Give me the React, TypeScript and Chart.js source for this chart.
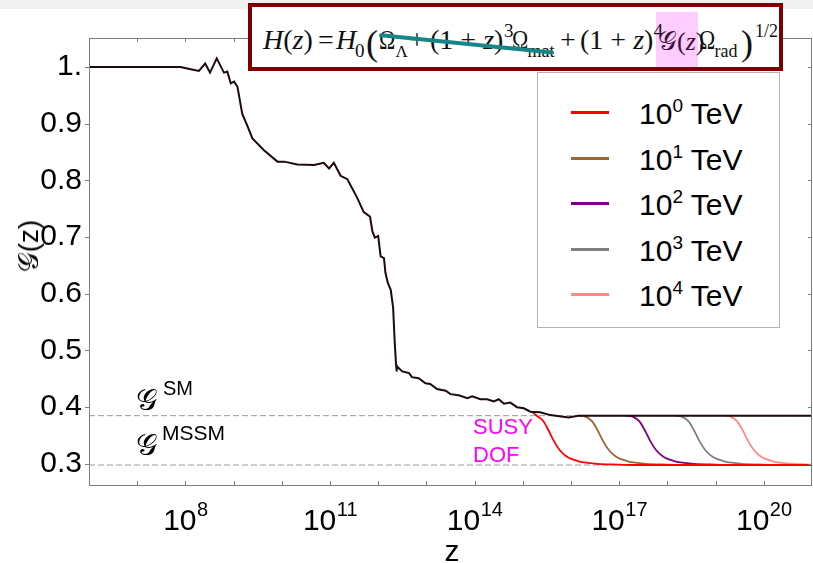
import React, { useEffect, useRef } from "react";
import { Chart, registerables } from "chart.js";

Chart.register(...registerables);

// ---------- axis settings ----------
const X_MIN = 1e6;
const X_MAX = 1e21;
const Y_MIN = 0.261;
const Y_MAX = 1.051;
const Y_TICKS = [0.3, 0.4, 0.5, 0.6, 0.7, 0.8, 0.9, 1.0];
const X_TICK_EXPS = [7, 8, 9, 10, 11, 12, 13, 14, 15, 16, 17, 18, 19, 20];
const X_LABEL_EXPS = [8, 11, 14, 17, 20];

// ---------- reference levels ----------
const G_SM = 0.385;
const G_MSSM = 0.298;

// ---------- SM curve (log10 z, G) ----------
const SM_LOGZ = [
  6.0, 7.9, 8.11, 8.28, 8.41, 8.51, 8.65, 8.8, 8.87, 8.94, 9.01, 9.08, 9.18, 9.29,
  9.39, 9.63, 9.91, 10.05, 10.32, 10.67, 10.87, 10.98, 11.08, 11.22, 11.36, 11.56,
  11.7, 11.83, 11.88, 11.93, 12.0, 12.05, 12.12, 12.15, 12.2, 12.26, 12.31, 12.34,
  12.37, 12.38, 12.39, 12.5, 12.64, 12.7, 12.84, 12.98, 13.08, 13.22, 13.4, 13.5,
  13.67, 13.85, 13.95, 14.12, 14.26, 14.4, 14.5, 14.61, 14.74, 14.88, 15.02, 15.16,
  15.36, 15.57, 15.95, 16.15, 21.0,
];
const SM_G = [
  1.0, 1.0, 0.996, 0.993, 1.006, 0.99, 1.015, 0.99, 0.992, 0.971, 0.974, 0.965, 0.917, 0.895,
  0.874, 0.853, 0.833, 0.833, 0.828, 0.827, 0.831, 0.821, 0.831, 0.808, 0.802, 0.77,
  0.744, 0.736, 0.71, 0.699, 0.702, 0.666, 0.663, 0.637, 0.619, 0.607, 0.575, 0.519,
  0.475, 0.463, 0.472, 0.463, 0.46, 0.453, 0.451, 0.442, 0.441, 0.432, 0.429, 0.423,
  0.421, 0.416, 0.419, 0.414, 0.414, 0.41, 0.414, 0.406, 0.408, 0.4, 0.398, 0.392,
  0.391, 0.386, 0.382, 0.385, 0.385,
];

// ---------- MSSM curves for different SUSY scales ----------
const RED_LOGZ = [15.19, 15.29, 15.42, 15.54, 15.64, 15.76, 15.91, 16.14, 16.49, 16.84, 17.3, 21.0];
const RED_G = [0.392, 0.385, 0.376, 0.358, 0.341, 0.325, 0.313, 0.305, 0.3005, 0.299, 0.298, 0.298];
const BROWN_LOGZ = [16.16, 16.31, 16.44, 16.56, 16.66, 16.78, 16.93, 17.16, 17.51, 17.86, 18.3, 21.0];
const BROWN_G = [0.385, 0.383, 0.375, 0.358, 0.341, 0.325, 0.313, 0.305, 0.3005, 0.299, 0.298, 0.298];
const PURPLE_LOGZ = [17.14, 17.29, 17.42, 17.54, 17.64, 17.76, 17.91, 18.14, 18.49, 18.84, 19.3, 21.0];
const PURPLE_G = [0.385, 0.383, 0.375, 0.358, 0.341, 0.325, 0.313, 0.305, 0.3005, 0.299, 0.298, 0.298];
const GRAY_LOGZ = [18.16, 18.31, 18.44, 18.56, 18.66, 18.78, 18.93, 19.16, 19.51, 19.86, 20.3, 21.0];
const GRAY_G = [0.385, 0.383, 0.375, 0.358, 0.341, 0.325, 0.313, 0.305, 0.3005, 0.299, 0.298, 0.298];
const PINK_LOGZ = [19.17, 19.32, 19.45, 19.57, 19.67, 19.79, 19.94, 20.17, 20.52, 20.87, 21.0];
const PINK_G = [0.385, 0.383, 0.375, 0.358, 0.341, 0.325, 0.313, 0.305, 0.3005, 0.299, 0.2985];

const SERIES_EXPONENTS = ["0", "1", "2", "3", "4"];
const SERIES_COLORS = ["#ff0000", "#9c6531", "#800080", "#808080", "#ff8a80"];
const SERIES_LOGZ = [RED_LOGZ, BROWN_LOGZ, PURPLE_LOGZ, GRAY_LOGZ, PINK_LOGZ];
const SERIES_G = [RED_G, BROWN_G, PURPLE_G, GRAY_G, PINK_G];

const toPoints = (lz: number[], g: number[]) =>
  lz.map((v, i) => ({ x: Math.pow(10, v), y: g[i] }));

const SANS = "'Liberation Sans', Arial, sans-serif";
const SERIF = "'Liberation Serif', 'Times New Roman', 'DejaVu Serif', serif";
const SCRIPT = "'DejaVu Sans', 'DejaVu Serif', 'Noto Sans', serif";

const framePlugin = {
  id: "frame",
  afterDraw(chart: any) {
    const { ctx, chartArea: a, scales } = chart;
    const x = scales.x;
    const y = scales.y;
    ctx.save();
    ctx.strokeStyle = "#7d7d7d";
    ctx.lineWidth = 1;
    ctx.strokeRect(a.left + 0.5, a.top + 0.5, a.right - a.left - 1, a.bottom - a.top - 1);
    ctx.beginPath();
    for (const t of x.ticks) {
      const px = Math.round(x.getPixelForValue(t.value)) + 0.5;
      ctx.moveTo(px, a.bottom);
      ctx.lineTo(px, a.bottom - 5);
      ctx.moveTo(px, a.top);
      ctx.lineTo(px, a.top + 4);
    }
    for (const t of y.ticks) {
      const py = Math.round(y.getPixelForValue(t.value)) + 0.5;
      ctx.moveTo(a.left - 4, py);
      ctx.lineTo(a.left, py);
      ctx.moveTo(a.right, py);
      ctx.lineTo(a.right - 4, py);
    }
    ctx.stroke();

    // x tick labels as 10 with a superscript exponent
    ctx.fillStyle = "#000";
    ctx.textBaseline = "alphabetic";
    ctx.textAlign = "left";
    for (const e of X_LABEL_EXPS) {
      const px = x.getPixelForValue(Math.pow(10, e));
      ctx.font = `30px ${SANS}`;
      const wBase = ctx.measureText("10").width;
      ctx.font = `20px ${SANS}`;
      const wSup = ctx.measureText(String(e)).width;
      const start = px - (wBase + wSup) / 2;
      ctx.font = `30px ${SANS}`;
      ctx.fillText("10", start, a.bottom + 44);
      ctx.font = `20px ${SANS}`;
      ctx.fillText(String(e), start + wBase + 0.5, a.bottom + 30);
    }
    ctx.restore();
  },
};

function Txt(props: {
  x: number; base: number; size: number; family?: string; color?: string;
  italic?: boolean; children: React.ReactNode; asc?: number; sx?: number;
}) {
  const asc = props.asc ?? 0.84;
  return (
    <div
      style={{
        position: "absolute",
        left: props.x,
        top: props.base - asc * props.size,
        fontSize: props.size,
        lineHeight: 1,
        fontFamily: props.family ?? SERIF,
        fontStyle: props.italic ? "italic" : "normal",
        color: props.color ?? "#111",
        whiteSpace: "nowrap",
        transformOrigin: "0 50%",
        transform: props.sx ? `scaleX(${props.sx})` : undefined,
      }}
    >
      {props.children}
    </div>
  );
}

export default function App() {
  const ref = useRef<HTMLCanvasElement>(null);

  useEffect(() => {
    document.body.style.margin = "0";
    const datasets: any[] = [
      {
        label: "SM",
        data: toPoints(SM_LOGZ, SM_G),
        borderColor: "#1e0a0a",
        borderWidth: 2,
        showLine: true,
        pointRadius: 0,
        tension: 0,
      },
      ...SERIES_LOGZ.map((lz, i) => ({
        label: "10^" + SERIES_EXPONENTS[i] + " TeV",
        data: toPoints(lz, SERIES_G[i]),
        borderColor: SERIES_COLORS[i],
        borderWidth: 1.8,
        showLine: true,
        pointRadius: 0,
        cubicInterpolationMode: "monotone",
      })),
      {
        label: "G_SM",
        data: [{ x: X_MIN, y: G_SM }, { x: X_MAX, y: G_SM }],
        borderColor: "#9a9a9a",
        borderWidth: 1,
        borderDash: [6, 3],
        showLine: true,
        pointRadius: 0,
      },
      {
        label: "G_MSSM",
        data: [{ x: X_MIN, y: G_MSSM }, { x: X_MAX, y: G_MSSM }],
        borderColor: "#9a9a9a",
        borderWidth: 1,
        borderDash: [6, 3],
        showLine: true,
        pointRadius: 0,
      },
    ];

    const chart = new Chart(ref.current as HTMLCanvasElement, {
      type: "scatter",
      data: { datasets },
      options: {
        responsive: false,
        animation: false,
        layout: { padding: { top: 38, right: 1, left: 0, bottom: 0 } },
        plugins: { legend: { display: false }, tooltip: { enabled: false } },
        scales: {
          x: {
            type: "logarithmic",
            min: X_MIN,
            max: X_MAX,
            afterBuildTicks: (s: any) => {
              s.ticks = X_TICK_EXPS.map((e) => ({ value: Math.pow(10, e) }));
            },
            afterFit: (s: any) => {
              s.height = 77;
            },
            grid: { display: false, drawTicks: false },
            border: { display: false },
            ticks: { display: false, autoSkip: false, maxRotation: 0 },
          } as any,
          y: {
            type: "linear",
            min: Y_MIN,
            max: Y_MAX,
            afterBuildTicks: (s: any) => {
              s.ticks = Y_TICKS.map((v) => ({ value: v }));
            },
            afterFit: (s: any) => {
              s.width = 89;
            },
            grid: { display: false, drawTicks: false },
            border: { display: false },
            ticks: {
              padding: 7,
              color: "#000",
              font: { family: SANS, size: 30 },
              callback: (v: any) => (Number(v) === 1 ? "1." : Number(v).toFixed(1)),
            },
          } as any,
        },
      },
      plugins: [framePlugin],
    });
    return () => chart.destroy();
  }, []);

  const legendRows = [112, 158, 203, 249, 294];

  return (
    <div style={{ position: "relative", width: 813, height: 563, overflow: "hidden", background: "#fff" }}>
      <div style={{ position: "absolute", left: 0, top: 0, width: 813, height: 9, background: "#f0f0f0" }} />
      <canvas ref={ref} width={813} height={563} style={{ position: "absolute", left: 0, top: 0 }} />

      {/* formula box */}
      <div
        style={{
          position: "absolute", left: 248, top: 3, width: 535 - 8, height: 68 - 8,
          border: "4px solid #7d0000", background: "#fff",
        }}
      />
      <div style={{ position: "absolute", left: 656, top: 12, width: 42, height: 55, background: "#ffccff" }} />
      <Txt x={263} base={50} size={28}><i>H</i>(<i>z</i>)</Txt>
      <Txt x={318} base={50} size={28}>=</Txt>
      <Txt x={336} base={50} size={28}><i>H</i></Txt>
      <Txt x={355} base={57} size={19}>0</Txt>
      <Txt x={366} base={55} size={36}>(</Txt>
      <Txt x={379} base={50} size={28} sx={0.78}>Ω</Txt>
      <Txt x={395.5} base={57} size={17}>Λ</Txt>
      <Txt x={409} base={50} size={28}>+</Txt>
      <Txt x={430} base={50} size={28}>(1 + <i>z</i>)</Txt>
      <Txt x={504} base={37} size={19}>3</Txt>
      <Txt x={512} base={50} size={28} sx={0.78}>Ω</Txt>
      <Txt x={527.5} base={57} size={18}>mat</Txt>
      <Txt x={560} base={50} size={28}>+</Txt>
      <Txt x={580} base={50} size={28}>(1 + <i>z</i>)</Txt>
      <Txt x={653.5} base={37} size={19}>4</Txt>
      <Txt x={658} base={50} size={26} color="#3a103a">
        <span style={{ fontFamily: SCRIPT }}>𝒢</span>(<i>z</i>)
      </Txt>
      <Txt x={698.5} base={50} size={28} sx={0.78}>Ω</Txt>
      <Txt x={714.5} base={57} size={18}>rad</Txt>
      <Txt x={741} base={55} size={36}>)</Txt>
      <Txt x={755} base={37} size={18}>1/2</Txt>
      <div
        style={{
          position: "absolute", left: 379, top: 33, width: 176, height: 4,
          background: "#168686", transformOrigin: "0 50%", transform: "rotate(5.8deg)",
          borderRadius: 2,
        }}
      />

      {/* legend */}
      <div
        style={{
          position: "absolute", left: 537, top: 72, width: 243, height: 256,
          border: "1px solid #b4b4b4", background: "#fff", boxSizing: "border-box",
        }}
      />
      {legendRows.map((yc, i) => (
        <React.Fragment key={i}>
          <div style={{ position: "absolute", left: 571, top: yc - 1, width: 38, height: 2.5, background: SERIES_COLORS[i] }} />
          <Txt x={639} base={yc + 12} size={30} family={SANS} color="#000" asc={0.85}>
            10<span style={{ fontSize: 19, position: "relative", top: -12 }}>{SERIES_EXPONENTS[i]}</span> TeV
          </Txt>
        </React.Fragment>
      ))}

      {/* annotations */}
      <Txt x={473} base={435} size={22} family={SANS} color="#ff00ff" asc={0.85}>SUSY</Txt>
      <Txt x={473} base={463} size={22} family={SANS} color="#ff00ff" asc={0.85}>DOF</Txt>
      <Txt x={136} base={410} size={30} family={SCRIPT} color="#000">𝒢</Txt>
      <Txt x={163} base={395} size={20} family={SANS} color="#000" asc={0.85}>SM</Txt>
      <Txt x={136} base={455} size={30} family={SCRIPT} color="#000">𝒢</Txt>
      <Txt x={162} base={440} size={21} family={SANS} color="#000" asc={0.85}>MSSM</Txt>

      {/* axis titles */}
      <div
        style={{
          position: "absolute", left: 29, top: 246, transform: "translate(-50%, -50%) rotate(-90deg)",
          fontFamily: SANS, fontSize: 28, lineHeight: 1, whiteSpace: "nowrap", color: "#000",
        }}
      >
        <span style={{ fontFamily: SCRIPT }}>𝒢</span>(z)
      </div>
      <div
        style={{
          position: "absolute", left: 452, top: 551, transform: "translate(-50%, -50%)",
          fontFamily: SANS, fontSize: 30, lineHeight: 1, color: "#000",
        }}
      >
        z
      </div>
    </div>
  );
}
